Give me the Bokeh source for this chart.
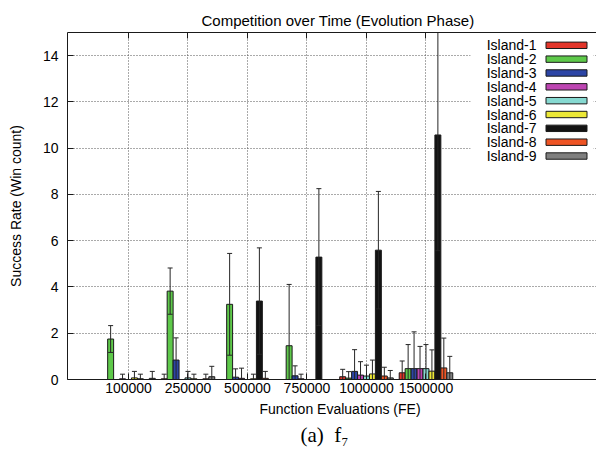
from bokeh.plotting import figure
from bokeh.models import ColumnDataSource, FixedTicker, LinearAxis, Range1d, Title
from bokeh.core.properties import value
from bokeh.embed import file_html
from bokeh.resources import INLINE

# ---------------- data ----------------
fe_labels = ["100000", "250000", "500000", "750000", "1000000", "1500000"]
island_names = ["Island-1", "Island-2", "Island-3", "Island-4", "Island-5",
                "Island-6", "Island-7", "Island-8", "Island-9"]
island_colors = ["#e2352a", "#5ec94a", "#2c45a6", "#bd45b2", "#86d9d1",
                 "#ece836", "#131313", "#ee5424", "#7f7f7f"]

island1_mean = [0.00, 0.03, 0.00, 0.00, 0.12, 0.29]
island1_std = [0.00, 0.20, 0.00, 0.00, 0.32, 0.51]
island2_mean = [1.75, 3.82, 3.25, 1.46, 0.06, 0.47]
island2_std = [0.58, 1.00, 2.20, 2.65, 0.28, 1.04]
island3_mean = [0.00, 0.84, 0.10, 0.16, 0.35, 0.47]
island3_std = [0.00, 0.96, 0.36, 0.43, 0.94, 1.59]
island4_mean = [0.03, 0.00, 0.05, 0.03, 0.19, 0.47]
island4_std = [0.20, 0.00, 0.44, 0.20, 0.58, 0.96]
island5_mean = [0.00, 0.07, 0.00, 0.00, 0.15, 0.47]
island5_std = [0.00, 0.28, 0.00, 0.00, 0.47, 1.04]
island6_mean = [0.07, 0.03, 0.03, 0.00, 0.24, 0.36]
island6_std = [0.28, 0.20, 0.20, 0.00, 0.60, 0.92]
island7_mean = [0.03, 0.00, 3.39, 5.29, 5.59, 10.57]
island7_std = [0.20, 0.00, 2.30, 2.96, 2.54, 5.00]
island8_mean = [0.00, 0.03, 0.05, 0.00, 0.15, 0.50]
island8_std = [0.00, 0.20, 0.30, 0.00, 0.38, 1.29]
island9_mean = [0.05, 0.12, 0.00, 0.00, 0.07, 0.29]
island9_std = [0.30, 0.45, 0.00, 0.00, 0.32, 0.71]

y_ticks = [0, 2, 4, 6, 8, 10, 12, 14]

means = [island1_mean, island2_mean, island3_mean, island4_mean, island5_mean,
         island6_mean, island7_mean, island8_mean, island9_mean]
stds = [island1_std, island2_std, island3_std, island4_std, island5_std,
        island6_std, island7_std, island8_std, island9_std]

# ---------------- layout ----------------
W, H = 596, 457
BL, BR, BT, BB = 67, 0, 32, 78
FW, FH = W - BL - BR, H - BT - BB
X0, X1 = -6.25, 82.66
Y0, Y1 = 0, 15
UX = FW / (X1 - X0)
UY = FH / (Y1 - Y0)


def px(page_x):
    return X0 + (page_x - BL) / UX


def py(page_y):
    return Y0 + (H - BB - page_y) / UY


FONT = "Liberation Sans"
SERIF = "Liberation Serif"

n_series = len(island_names)
pitch = n_series + 1
cluster_centers = [c * pitch + (n_series - 1) / 2 for c in range(len(fe_labels))]

p = figure(width=W, height=H, x_range=Range1d(X0, X1), y_range=Range1d(Y0, Y1),
           output_backend="svg", toolbar_location=None,
           title="Competition over Time (Evolution Phase)",
           min_border_left=BL, min_border_right=BR, min_border_top=BT,
           min_border_bottom=BB)
p.outline_line_color = None
p.background_fill_color = "white"
p.border_fill_color = "white"
p.title.align = "left"
p.title.offset = 134
p.title.text_font = FONT
p.title.text_font_size = "15px"
p.title.text_font_style = "normal"
p.title.text_color = "black"
p.title.standoff = 7

# axes
xa = p.xaxis[0]
xa.ticker = FixedTicker(ticks=cluster_centers)
xa.major_label_overrides = {cc: lab for cc, lab in zip(cluster_centers, fe_labels)}
ya = p.yaxis[0]
ya.ticker = FixedTicker(ticks=y_ticks)
for ax in (xa, ya):
    ax.major_tick_in = 6
    ax.major_tick_out = 0
    ax.minor_tick_line_color = None
    ax.axis_line_color = "#1a1a1a"
    ax.major_tick_line_color = "#1a1a1a"
    ax.major_label_text_font = FONT
    ax.major_label_text_font_size = "14px"
    ax.major_label_text_color = "black"
    ax.axis_label_text_font = FONT
    ax.axis_label_text_font_size = "14px"
    ax.axis_label_text_font_style = "normal"
    ax.axis_label_text_color = "black"
xa.major_label_standoff = 3
ya.major_label_standoff = 9
ya.axis_label = "Success Rate (Win count)"
ya.axis_label_standoff = 16

top_axis = LinearAxis(ticker=FixedTicker(ticks=cluster_centers), major_tick_in=6,
                      major_tick_out=0, minor_tick_line_color=None,
                      axis_line_color="#1a1a1a", major_tick_line_color="#1a1a1a",
                      major_label_text_color=None, major_label_text_font_size="1px",
                      major_label_standoff=0)
p.add_layout(top_axis, "above")

xlabel = Title(text="Function Evaluations (FE)", align="left", offset=192,
               text_font=FONT, text_font_size="14px", text_font_style="normal",
               text_color="black", standoff=6)
p.add_layout(xlabel, "below")
caption = Title(text="(a)\u2002f\u2087", align="left", offset=233, text_font=SERIF,
                text_font_size="21px", text_font_style="normal", text_color="black",
                standoff=2)
p.add_layout(caption, "below")

# grid
p.xgrid.ticker = FixedTicker(ticks=cluster_centers)
p.ygrid.ticker = FixedTicker(ticks=y_ticks)
for g in (p.xgrid, p.ygrid):
    g.grid_line_color = "#555555"
    g.grid_line_dash = "1 2"
    g.grid_line_width = 1

# bars
bx, btop, bcol = [], [], []
ex, elo, ehi = [], [], []
for j in range(n_series):
    for c in range(len(fe_labels)):
        x = c * pitch + j
        bx.append(x)
        btop.append(means[j][c])
        bcol.append(island_colors[j])
        if stds[j][c] > 0:
            ex.append(x)
            elo.append(means[j][c] - stds[j][c])
            ehi.append(means[j][c] + stds[j][c])

bars = ColumnDataSource(dict(x=bx, top=btop, color=bcol))
p.vbar(x="x", top="top", bottom=0, width=1, source=bars, fill_color="color",
       line_color="#1a1a1a", line_width=1)

cap = 0.42
errs = ColumnDataSource(dict(x=ex, lo=elo, hi=ehi,
                             xl=[v - cap for v in ex], xr=[v + cap for v in ex]))
p.segment(x0="x", y0="lo", x1="x", y1="hi", source=errs, line_color="#262626", line_width=1)
p.segment(x0="xl", y0="hi", x1="xr", y1="hi", source=errs, line_color="#262626", line_width=1)
p.segment(x0="xl", y0="lo", x1="xr", y1="lo", source=errs, line_color="#262626", line_width=1)

# legend (label on the left, sample on the right)
p.quad(left=px(470), right=px(593), top=Y1, bottom=py(168), fill_color="white", line_color=None)
row0, row_step = 44.8, 13.84
ly = [py(row0 + i * row_step) for i in range(n_series)]
p.text(x=[px(536)] * n_series, y=ly, text=island_names, text_align="right",
       text_baseline="middle", text_font=value(FONT), text_font_size="14px",
       text_color="black")
p.quad(left=[px(545.5)] * n_series, right=[px(586.5)] * n_series,
       top=[py(row0 + i * row_step - 3.2) for i in range(n_series)],
       bottom=[py(row0 + i * row_step + 3.2) for i in range(n_series)],
       fill_color=island_colors, line_color="#1a1a1a", line_width=1)

open("out.html", "w").write(file_html(p, INLINE))
